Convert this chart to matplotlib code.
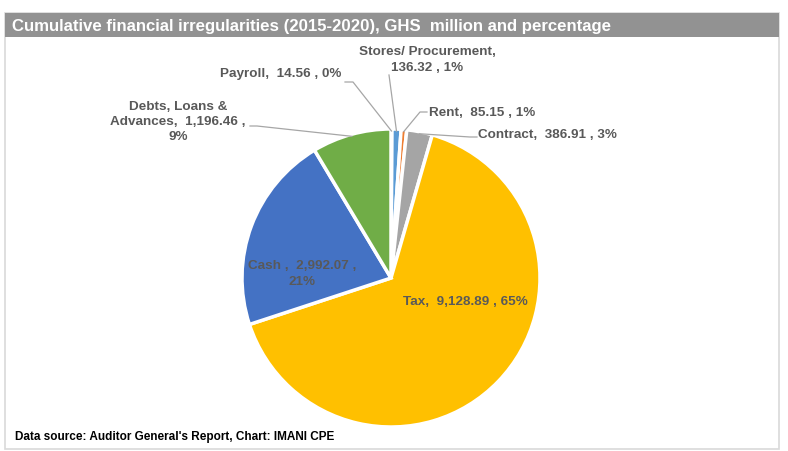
import numpy as np
import matplotlib
matplotlib.use("Agg")
import matplotlib.pyplot as plt
from matplotlib.patches import Rectangle

# ---- data ----
categories = ["Payroll", "Stores/ Procurement", "Rent", "Contract", "Tax", "Cash ", "Debts, Loans & Advances"]
values = [14.56, 136.32, 85.15, 386.91, 9128.89, 2992.07, 1196.46]
colors = ["#264478", "#5B9BD5", "#ED7D31", "#A5A5A5", "#FFC000", "#4472C4", "#70AD47"]

title = "Cumulative financial irregularities (2015-2020), GHS  million and percentage"
source = "Data source: Auditor General's Report, Chart: IMANI CPE"

W, H = 788, 452
fig = plt.figure(figsize=(W / 100, H / 100), dpi=100)
ax = fig.add_axes([0, 0, 1, 1])

cx, cy, R = 391, 279, 149
wedges, _ = ax.pie(values, colors=colors, center=(cx, cy), radius=R,
                   startangle=-90, counterclock=True,
                   wedgeprops=dict(edgecolor="white", linewidth=2.5))
ax.set_xlim(0, W)
ax.set_ylim(H, 0)
ax.set_aspect("equal")
ax.axis("off")

# frame + title bar
ax.add_patch(Rectangle((5, 14), 774, 436, fill=False, edgecolor="#D9D9D9", lw=1.2, zorder=0))
ax.add_patch(Rectangle((5, 14), 774, 24, facecolor="#929292", edgecolor="none", zorder=1))
sans = ["Liberation Sans", "DejaVu Sans"]
ax.text(12, 26.5, title, color="white", fontsize=12.1, fontweight="bold",
        family=sans, va="center", ha="left")
ax.text(15, 437, source, color="black", fontsize=8.5, fontweight="bold",
        family=sans, va="center", ha="left")

total = sum(values)
pcts = [round(v / total * 100) for v in values]
texts = [f"{c},  {v:,.2f} , {p}%" for c, v, p in zip(categories, values, pcts)]
# line breaks as in the reference layout
texts[1] = texts[1].replace(",  ", ",\n", 1)
t5 = texts[5].rsplit(" , ", 1)
texts[5] = t5[0] + " ,\n" + t5[1]
t6 = texts[6].rsplit(" , ", 1)
texts[6] = t6[0].replace("& ", "&\n", 1) + " ,\n" + t6[1]

lab_col = "#595959"
line_col = "#A6A6A6"
fs = 9.7

# label positions: (x, y, ha)
pos = [
    (341, 74, "right"),
    (427, 60, "center"),
    (429, 113, "left"),
    (478, 135, "left"),
    (465, 302, "center"),
    (302, 274, "center"),
    (178, 122, "center"),
]
for t, (x, y, ha) in zip(texts, pos):
    ax.text(x, y, t, color=lab_col, fontsize=fs, fontweight="bold", family=sans,
            ha=ha, va="center", multialignment="center", linespacing=1.38, zorder=5)

# leader lines (elbow points), ending on the wedge edge at its mid angle
def edge_point(w, r_off=-2):
    th = np.deg2rad((w.theta1 + w.theta2) / 2)
    return cx + (R + r_off) * np.cos(th), cy + (R + r_off) * np.sin(th)

leaders = {
    0: [(345, 83), (353, 83)],
    1: [(389, 76)],
    2: [(427, 113), (420, 113)],
    3: [(477, 138), (470, 138)],
    6: [(250, 127), (257, 127)],
}
for i, pts in leaders.items():
    ex, ey = edge_point(wedges[i])
    xs = [p[0] for p in pts] + [ex]
    ys = [p[1] for p in pts] + [ey]
    ax.plot(xs, ys, color=line_col, lw=0.9, zorder=4)

fig.savefig("out.png", dpi=100)
